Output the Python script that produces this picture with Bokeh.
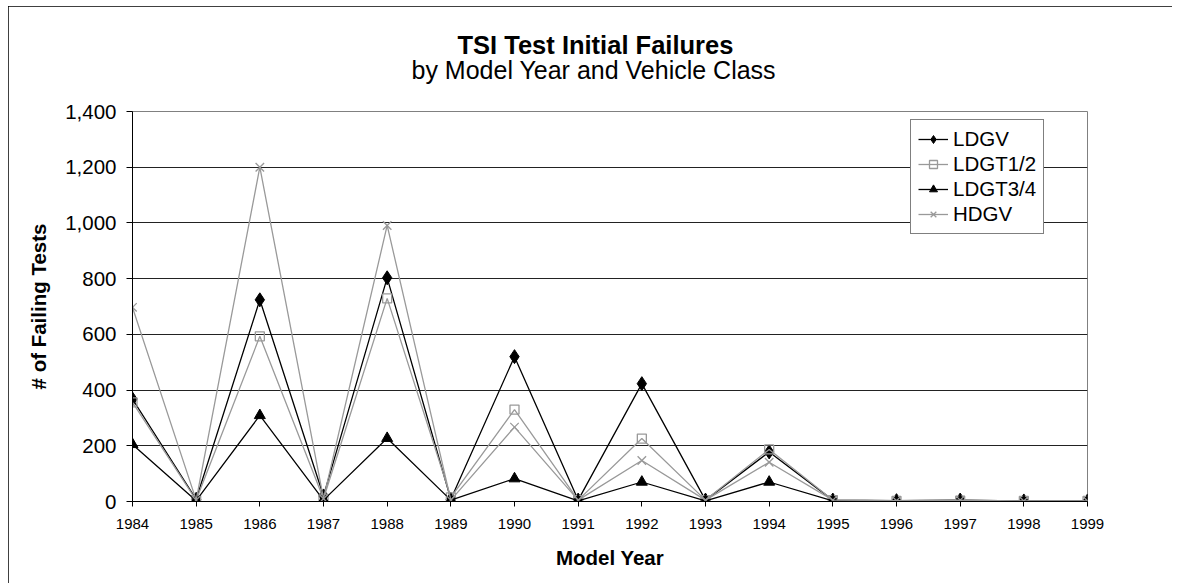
from bokeh.plotting import figure
from bokeh.models import (Range1d, FixedTicker, NumeralTickFormatter, Legend, LegendItem,
                          Title, ColumnDataSource)
from bokeh.embed import file_html
from bokeh.resources import INLINE

# ---- data ----
years = [1984, 1985, 1986, 1987, 1988, 1989, 1990, 1991,
         1992, 1993, 1994, 1995, 1996, 1997, 1998, 1999]
ldgv = [368, 8, 724, 20, 803, 8, 520, 5, 423, 5, 178, 5, 3, 5, 2, 2]
ldgt12 = [356, 5, 593, 10, 729, 15, 330, 5, 226, 5, 187, 5, 2, 3, 2, 2]
ldgt34 = [205, 3, 309, 5, 227, 5, 82, 2, 70, 2, 70, 2, 1, 1, 0, 0]
hdgv = [697, 5, 1200, 10, 991, 5, 267, 5, 147, 5, 141, 5, 3, 5, 2, 2]
y_ticks = [0, 200, 400, 600, 800, 1000, 1200, 1400]

title_text = "TSI Test Initial Failures"
subtitle_text = "by Model Year and Vehicle Class"
FONT = "Liberation Sans"

W, H = 1164, 577
LEFT, TOP = 8, 6
p = figure(width=W, height=H, x_range=Range1d(1984, 1999), y_range=Range1d(0, 1400),
           output_backend="svg", toolbar_location=None, title=None,
           min_border_left=132 - LEFT, min_border_right=W - (1087 - LEFT),
           min_border_top=111 - TOP, min_border_bottom=H - (501 - TOP))
p.styles = {"margin-left": f"{LEFT}px", "margin-top": f"{TOP}px",
            "outline": "1px solid black", "outline-offset": "-1px"}
p.background_fill_color = "white"
p.border_fill_color = "white"
p.outline_line_color = "#808080"
p.outline_line_width = 1

# grid
p.xgrid.grid_line_color = None
p.ygrid.grid_line_color = "#222222"
p.ygrid.grid_line_width = 1
p.ygrid.ticker = FixedTicker(ticks=y_ticks)

# axes
p.yaxis.ticker = FixedTicker(ticks=y_ticks)
p.yaxis.formatter = NumeralTickFormatter(format="0,0")
p.xaxis.ticker = FixedTicker(ticks=years)
for ax in (p.xaxis[0], p.yaxis[0]):
    ax.axis_line_color = "black"
    ax.major_tick_line_color = "black"
    ax.minor_tick_line_color = None
    ax.major_tick_in = 0
    ax.major_label_text_font = FONT
    ax.major_label_text_color = "black"
    ax.axis_label_text_font = FONT
    ax.axis_label_text_font_style = "bold"
    ax.axis_label_text_color = "black"
    ax.axis_label_text_font_size = "20.5px"
p.yaxis.major_tick_out = 6
p.xaxis.major_tick_out = 5
p.yaxis.major_label_text_font_size = "20.5px"
p.xaxis.major_label_text_font_size = "15px"
p.yaxis.major_label_standoff = 10
p.xaxis.major_label_standoff = 12
p.yaxis.axis_label = "# of Failing Tests"
p.xaxis.axis_label = "Model Year"
p.yaxis.axis_label_standoff = 12
p.xaxis.axis_label_standoff = 14

src = ColumnDataSource(dict(year=years, ldgv=ldgv, ldgt12=ldgt12, ldgt34=ldgt34, hdgv=hdgv))
gray = "#999999"

l1 = p.line("year", "ldgv", source=src, line_color="black", line_width=1.3)
m1 = p.scatter("year", "ldgv", source=src, marker="diamond", size=14,
               fill_color="black", line_color="black")
l2 = p.line("year", "ldgt12", source=src, line_color=gray, line_width=1.3)
m2 = p.scatter("year", "ldgt12", source=src, marker="square", size=9,
               fill_color=None, line_color=gray, line_width=1.3)
l3 = p.line("year", "ldgt34", source=src, line_color="black", line_width=1.3)
m3 = p.scatter("year", "ldgt34", source=src, marker="triangle", size=11,
               fill_color="black", line_color="black")
l4 = p.line("year", "hdgv", source=src, line_color=gray, line_width=1.3)
m4 = p.scatter("year", "hdgv", source=src, marker="x", size=12,
               line_color=gray, line_width=1.3)

legend = Legend(items=[
    LegendItem(label="LDGV", renderers=[l1, m1]),
    LegendItem(label="LDGT1/2", renderers=[l2, m2]),
    LegendItem(label="LDGT3/4", renderers=[l3, m3]),
    LegendItem(label="HDGV", renderers=[l4, m4]),
], location=(778, 267))
legend.label_text_font = FONT
legend.label_text_font_size = "20.5px"
legend.label_text_color = "black"
legend.glyph_width = 30
legend.glyph_height = 20
legend.label_height = 20
legend.label_standoff = 5
legend.spacing = 1
legend.padding = 7
legend.margin = 0
legend.border_line_color = "black"
legend.border_line_width = 1
legend.background_fill_color = "white"
legend.background_fill_alpha = 1
p.add_layout(legend, "center")

# titles: first added sits closest to the plot.  The subtitle carries a blank
# second line, which leaves the gap between it and the plot area.
p.add_layout(Title(text=subtitle_text + "\n\u00a0", align="left", offset=411 - 132,
                   standoff=0, text_font=FONT, text_font_size="25px",
                   text_font_style="normal", text_color="black"), "above")
p.add_layout(Title(text=title_text, align="left", offset=457 - 132, standoff=-10,
                   text_font=FONT, text_font_size="25.5px", text_font_style="bold",
                   text_color="black"), "above")

open("out.html", "w").write(file_html(p, INLINE))
